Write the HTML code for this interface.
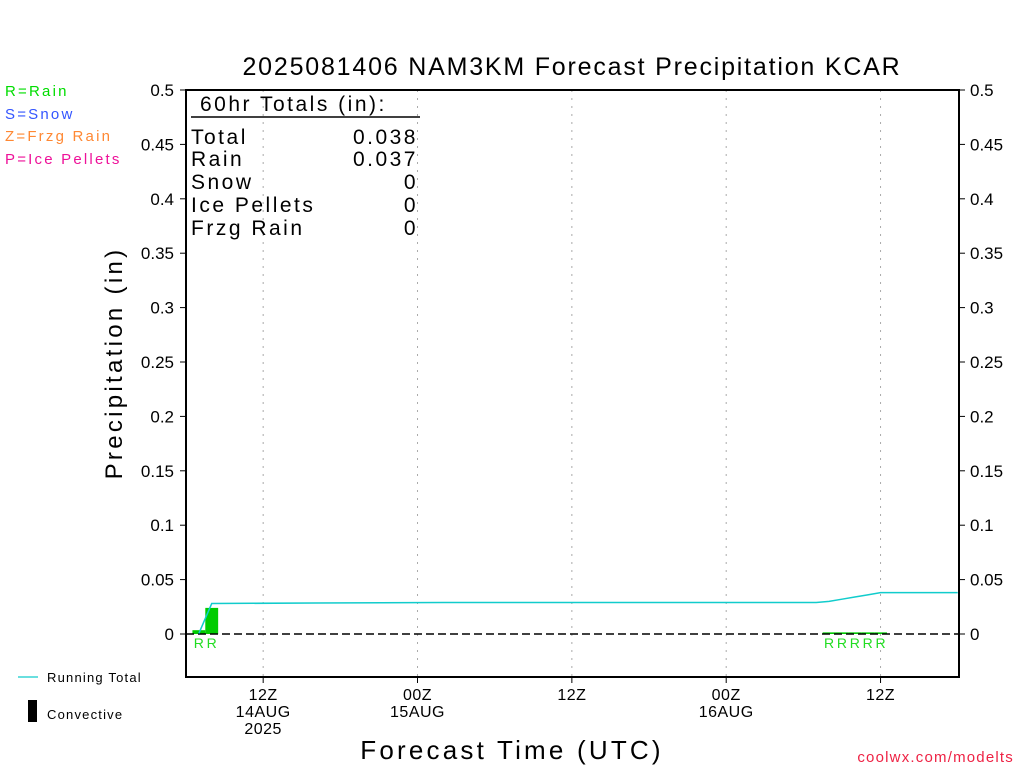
<!DOCTYPE html>
<html><head><meta charset="utf-8"><style>
body{margin:0;background:#fff;}
svg text{font-family:"Liberation Sans",sans-serif;}
</style></head><body>
<svg id="c" width="1024" height="768" xmlns="http://www.w3.org/2000/svg">
<rect width="1024" height="768" fill="#fff"/>
<text x="572" y="75" font-size="25" letter-spacing="1.8" text-anchor="middle">2025081406 NAM3KM Forecast Precipitation KCAR</text>
<g font-size="15" letter-spacing="2.2">
<text x="5" y="96" fill="#00dd00">R=Rain</text>
<text x="5" y="119" fill="#3355ff">S=Snow</text>
<text x="5" y="141" fill="#ff8833">Z=Frzg Rain</text>
<text x="5" y="164" fill="#ee1199">P=Ice Pellets</text>
</g>
<g id="grid"></g>
<g id="marks"></g>
<rect x="186" y="90" width="773" height="587" fill="none" stroke="#000" stroke-width="2"/>
<g id="axes" font-size="17"></g>
<text transform="translate(122,363) rotate(-90)" font-size="24" letter-spacing="3.3" text-anchor="middle">Precipitation (in)</text>
<text x="512" y="759" font-size="26" letter-spacing="3.2" text-anchor="middle">Forecast Time (UTC)</text>
<text x="1014" y="762" font-size="15" letter-spacing="1.2" fill="#ee2244" text-anchor="end">coolwx.com/modelts</text>
<g font-size="21" letter-spacing="2.5">
<text x="200" y="111">60hr Totals (in):</text>
<line x1="191" y1="117" x2="420" y2="117" stroke="#000" stroke-width="1.5"/>
<text x="191" y="144">Total</text><text x="418" y="144" text-anchor="end">0.038</text>
<text x="191" y="166">Rain</text><text x="418" y="166" text-anchor="end">0.037</text>
<text x="191" y="189">Snow</text><text x="418" y="189" text-anchor="end">0</text>
<text x="191" y="212">Ice Pellets</text><text x="418" y="212" text-anchor="end">0</text>
<text x="191" y="235">Frzg Rain</text><text x="418" y="235" text-anchor="end">0</text>
</g>
<g font-size="13" letter-spacing="1.2">
<line x1="18" y1="677" x2="38" y2="677" stroke="#11cccc" stroke-width="1.2"/>
<text x="47" y="682">Running Total</text>
<rect x="28" y="700" width="9" height="22" fill="#000"/>
<text x="47" y="719">Convective</text>
</g>
</svg>
<script>
const yTicks=[0,0.05,0.1,0.15,0.2,0.25,0.3,0.35,0.4,0.45,0.5];
const yTickLabels=["0","0.05","0.1","0.15","0.2","0.25","0.3","0.35","0.4","0.45","0.5"];
const xTickHours=[6,18,30,42,54];
const xTickLabels=[["12Z","14AUG","2025"],["00Z","15AUG"],["12Z"],["00Z","16AUG"],["12Z"]];
const barHours=[1,2,50,51,52,53,54];
const barValues=[0.0035,0.024,0.0015,0.0015,0.0015,0.0015,0.0015];
const barTypes=["R","R","R","R","R","R","R"];
const totalHours=[1,2,10,20,30,40,48,49,50,51,52,53,54,60];
const totalValues=[0.0005,0.028,0.0285,0.029,0.029,0.029,0.029,0.029,0.030,0.032,0.034,0.036,0.038,0.038];
const X=h=>186+h*(773/60.1), Y=v=>634-v*1088;
const NS="http://www.w3.org/2000/svg";
function mk(t,a,p){const e=document.createElementNS(NS,t);for(const k in a)e.setAttribute(k,a[k]);p.appendChild(e);return e;}
const grid=document.getElementById('grid'),marks=document.getElementById('marks'),axes=document.getElementById('axes');
xTickHours.forEach((h,i)=>{
 const l=mk('line',{x1:X(h),x2:X(h),y1:90,y2:677,stroke:'#aaa','stroke-dasharray':'2,6'},grid);
 
 
 const tk=mk('line',{x1:X(h),x2:X(h),y1:677,y2:683,stroke:'#000'},axes);
 
 
 xTickLabels[i].forEach((s,j)=>{const t=mk('text',{x:X(h),y:700+j*17,'text-anchor':'middle','font-size':16,'letter-spacing':0.5},axes);t.textContent=s;
 
 });
});
yTicks.forEach((v,i)=>{
 const t=mk('text',{x:174,y:Y(v)+6,'text-anchor':'end'},axes);t.textContent=yTickLabels[i];
 
 
 const r=mk('text',{x:970,y:Y(v)+6},axes);r.textContent=yTickLabels[i];
 
 
 const a=mk('line',{x1:180,x2:186,y1:Y(v),y2:Y(v),stroke:'#000'},axes);
 
 
 const b=mk('line',{x1:959,x2:965,y1:Y(v),y2:Y(v),stroke:'#000'},axes);
 
 
});
barHours.forEach((h,i)=>{
 const x0=X(h-0.5),x1=X(h+0.5);
 const r=mk('rect',{x:x0,y:Y(barValues[i]),width:x1-x0,height:Y(0)-Y(barValues[i]),fill:'#00cc00'},marks);
 
 
 const t=mk('text',{x:X(h),y:648,'text-anchor':'middle','font-size':14,fill:'#22dd22'},marks);t.textContent=barTypes[i];
 
 
});
const zl=mk('line',{x1:186,x2:959,y1:Y(0),y2:Y(0),stroke:'#000','stroke-dasharray':'8,4','stroke-width':1.5},marks);


const pl=mk('polyline',{points:totalHours.map((h,i)=>X(h)+','+Y(totalValues[i])).join(' '),fill:'none',stroke:'#11cccc','stroke-width':1.5},marks);


</script>
</body></html>
